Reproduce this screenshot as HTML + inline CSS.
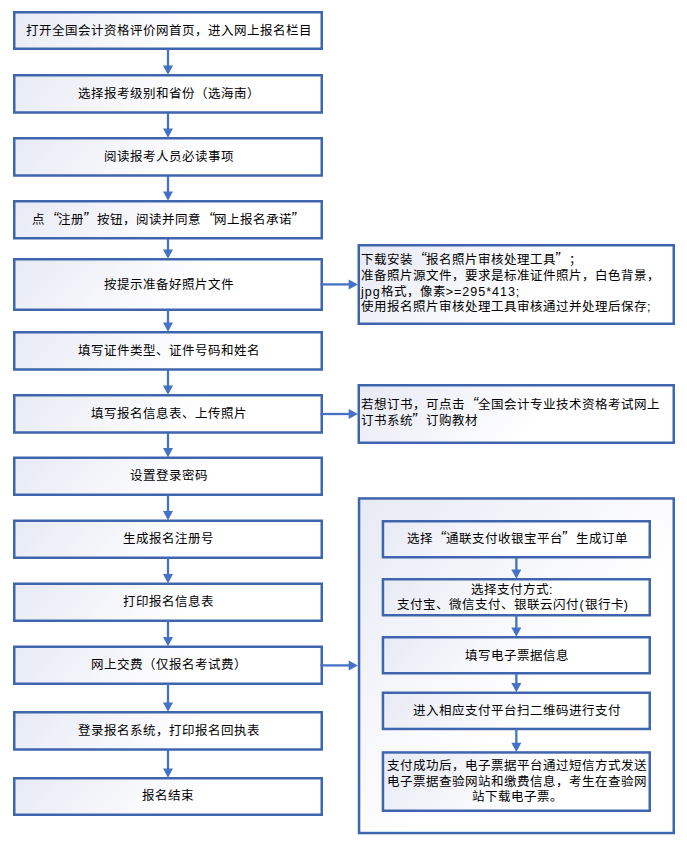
<!DOCTYPE html>
<html lang="zh-CN"><head><meta charset="utf-8">
<style>
html,body{margin:0;padding:0;background:#fff;width:687px;height:853px;overflow:hidden;}
body{position:relative;font-family:"Liberation Sans",sans-serif;color:#000;}
svg{position:absolute;left:0;top:0;}
.t{position:absolute;font-size:12.5px;line-height:15.6px;white-space:nowrap;}
.ql{display:inline-block;width:13px;text-align:right;font-family:"Liberation Sans",sans-serif;font-size:16px;font-style:italic;position:relative;top:-2px;vertical-align:top}
.qr{display:inline-block;width:13px;text-align:left;text-indent:-1.5px;font-family:"Liberation Sans",sans-serif;font-size:16px;font-style:italic;position:relative;top:-2px;vertical-align:top}
.n{display:flex;align-items:center;}
.ls{letter-spacing:1px}
.c{display:flex;align-items:center;justify-content:center;text-align:center;}
</style></head><body>
<svg width="687" height="853" viewBox="0 0 687 853">
<defs>
<linearGradient id="g0" gradientUnits="userSpaceOnUse" x1="13.0" y1="11" x2="187.50" y2="185.50"><stop offset="0" stop-color="#e7e9f4"/><stop offset="0.58" stop-color="#fff"/></linearGradient>
<linearGradient id="g1" gradientUnits="userSpaceOnUse" x1="13.0" y1="74" x2="187.88" y2="248.88"><stop offset="0" stop-color="#e7e9f4"/><stop offset="0.58" stop-color="#fff"/></linearGradient>
<linearGradient id="g2" gradientUnits="userSpaceOnUse" x1="13.0" y1="137" x2="187.88" y2="311.88"><stop offset="0" stop-color="#e7e9f4"/><stop offset="0.58" stop-color="#fff"/></linearGradient>
<linearGradient id="g3" gradientUnits="userSpaceOnUse" x1="13.0" y1="200" x2="187.75" y2="374.75"><stop offset="0" stop-color="#e7e9f4"/><stop offset="0.58" stop-color="#fff"/></linearGradient>
<linearGradient id="g4" gradientUnits="userSpaceOnUse" x1="13.0" y1="258" x2="194.50" y2="439.50"><stop offset="0" stop-color="#e7e9f4"/><stop offset="0.58" stop-color="#fff"/></linearGradient>
<linearGradient id="g5" gradientUnits="userSpaceOnUse" x1="13.0" y1="331" x2="187.88" y2="505.88"><stop offset="0" stop-color="#e7e9f4"/><stop offset="0.58" stop-color="#fff"/></linearGradient>
<linearGradient id="g6" gradientUnits="userSpaceOnUse" x1="13.0" y1="394" x2="187.88" y2="568.88"><stop offset="0" stop-color="#e7e9f4"/><stop offset="0.58" stop-color="#fff"/></linearGradient>
<linearGradient id="g7" gradientUnits="userSpaceOnUse" x1="13.0" y1="456.5" x2="187.75" y2="631.25"><stop offset="0" stop-color="#e7e9f4"/><stop offset="0.58" stop-color="#fff"/></linearGradient>
<linearGradient id="g8" gradientUnits="userSpaceOnUse" x1="13.0" y1="519.5" x2="187.75" y2="694.25"><stop offset="0" stop-color="#e7e9f4"/><stop offset="0.58" stop-color="#fff"/></linearGradient>
<linearGradient id="g9" gradientUnits="userSpaceOnUse" x1="13.0" y1="582.5" x2="187.75" y2="757.25"><stop offset="0" stop-color="#e7e9f4"/><stop offset="0.58" stop-color="#fff"/></linearGradient>
<linearGradient id="g10" gradientUnits="userSpaceOnUse" x1="13.0" y1="645.5" x2="187.75" y2="820.25"><stop offset="0" stop-color="#e7e9f4"/><stop offset="0.58" stop-color="#fff"/></linearGradient>
<linearGradient id="g11" gradientUnits="userSpaceOnUse" x1="13.0" y1="711" x2="187.88" y2="885.88"><stop offset="0" stop-color="#e7e9f4"/><stop offset="0.58" stop-color="#fff"/></linearGradient>
<linearGradient id="g12" gradientUnits="userSpaceOnUse" x1="13.0" y1="777" x2="187.50" y2="951.50"><stop offset="0" stop-color="#e7e9f4"/><stop offset="0.58" stop-color="#fff"/></linearGradient>
<linearGradient id="g13" gradientUnits="userSpaceOnUse" x1="357.5" y1="244" x2="556.75" y2="443.25"><stop offset="0" stop-color="#e7e9f4"/><stop offset="0.58" stop-color="#fff"/></linearGradient>
<linearGradient id="g14" gradientUnits="userSpaceOnUse" x1="357.5" y1="384" x2="546.25" y2="572.75"><stop offset="0" stop-color="#e7e9f4"/><stop offset="0.58" stop-color="#fff"/></linearGradient>
<linearGradient id="g15" gradientUnits="userSpaceOnUse" x1="357.8" y1="497.2" x2="684.95" y2="824.35"><stop offset="0" stop-color="#e7e9f4"/><stop offset="0.58" stop-color="#fff"/></linearGradient>
<linearGradient id="g16" gradientUnits="userSpaceOnUse" x1="381.7" y1="520" x2="535.60" y2="673.90"><stop offset="0" stop-color="#e7e9f4"/><stop offset="0.58" stop-color="#fff"/></linearGradient>
<linearGradient id="g17" gradientUnits="userSpaceOnUse" x1="381.7" y1="578" x2="535.60" y2="731.90"><stop offset="0" stop-color="#e7e9f4"/><stop offset="0.58" stop-color="#fff"/></linearGradient>
<linearGradient id="g18" gradientUnits="userSpaceOnUse" x1="381.7" y1="636" x2="535.60" y2="789.90"><stop offset="0" stop-color="#e7e9f4"/><stop offset="0.58" stop-color="#fff"/></linearGradient>
<linearGradient id="g19" gradientUnits="userSpaceOnUse" x1="381.7" y1="691.5" x2="535.70" y2="845.50"><stop offset="0" stop-color="#e7e9f4"/><stop offset="0.58" stop-color="#fff"/></linearGradient>
<linearGradient id="g20" gradientUnits="userSpaceOnUse" x1="381.7" y1="751.2" x2="546.75" y2="916.25"><stop offset="0" stop-color="#e7e9f4"/><stop offset="0.58" stop-color="#fff"/></linearGradient>
</defs>
<rect x="14.25" y="12.25" width="307.50" height="36.50" fill="url(#g0)" stroke="#3e65ae" stroke-width="2.5"/>
<line x1="168.0" y1="49" x2="168.0" y2="66.5" stroke="#4472c4" stroke-width="2.3"/>
<path d="M163.0,65.5 L173.0,65.5 L168.0,74.7 Z" fill="#4472c4"/>
<rect x="14.25" y="75.25" width="307.50" height="37.25" fill="url(#g1)" stroke="#3e65ae" stroke-width="2.5"/>
<line x1="168.0" y1="112.75" x2="168.0" y2="129.5" stroke="#4472c4" stroke-width="2.3"/>
<path d="M163.0,128.5 L173.0,128.5 L168.0,137.7 Z" fill="#4472c4"/>
<rect x="14.25" y="138.25" width="307.50" height="37.25" fill="url(#g2)" stroke="#3e65ae" stroke-width="2.5"/>
<line x1="168.0" y1="175.75" x2="168.0" y2="192.5" stroke="#4472c4" stroke-width="2.3"/>
<path d="M163.0,191.5 L173.0,191.5 L168.0,200.7 Z" fill="#4472c4"/>
<rect x="14.25" y="201.25" width="307.50" height="37.00" fill="url(#g3)" stroke="#3e65ae" stroke-width="2.5"/>
<line x1="168.0" y1="238.5" x2="168.0" y2="250.5" stroke="#4472c4" stroke-width="2.3"/>
<path d="M163.0,249.5 L173.0,249.5 L168.0,258.7 Z" fill="#4472c4"/>
<rect x="14.25" y="259.25" width="307.50" height="50.50" fill="url(#g4)" stroke="#3e65ae" stroke-width="2.5"/>
<line x1="168.0" y1="310" x2="168.0" y2="323.5" stroke="#4472c4" stroke-width="2.3"/>
<path d="M163.0,322.5 L173.0,322.5 L168.0,331.7 Z" fill="#4472c4"/>
<rect x="14.25" y="332.25" width="307.50" height="37.25" fill="url(#g5)" stroke="#3e65ae" stroke-width="2.5"/>
<line x1="168.0" y1="369.75" x2="168.0" y2="386.5" stroke="#4472c4" stroke-width="2.3"/>
<path d="M163.0,385.5 L173.0,385.5 L168.0,394.7 Z" fill="#4472c4"/>
<rect x="14.25" y="395.25" width="307.50" height="37.25" fill="url(#g6)" stroke="#3e65ae" stroke-width="2.5"/>
<line x1="168.0" y1="432.75" x2="168.0" y2="449.0" stroke="#4472c4" stroke-width="2.3"/>
<path d="M163.0,448.0 L173.0,448.0 L168.0,457.2 Z" fill="#4472c4"/>
<rect x="14.25" y="457.75" width="307.50" height="37.00" fill="url(#g7)" stroke="#3e65ae" stroke-width="2.5"/>
<line x1="168.0" y1="495" x2="168.0" y2="512.0" stroke="#4472c4" stroke-width="2.3"/>
<path d="M163.0,511.00000000000006 L173.0,511.00000000000006 L168.0,520.2 Z" fill="#4472c4"/>
<rect x="14.25" y="520.75" width="307.50" height="37.00" fill="url(#g8)" stroke="#3e65ae" stroke-width="2.5"/>
<line x1="168.0" y1="558" x2="168.0" y2="575.0" stroke="#4472c4" stroke-width="2.3"/>
<path d="M163.0,574.0 L173.0,574.0 L168.0,583.2 Z" fill="#4472c4"/>
<rect x="14.25" y="583.75" width="307.50" height="37.00" fill="url(#g9)" stroke="#3e65ae" stroke-width="2.5"/>
<line x1="168.0" y1="621" x2="168.0" y2="638.0" stroke="#4472c4" stroke-width="2.3"/>
<path d="M163.0,637.0 L173.0,637.0 L168.0,646.2 Z" fill="#4472c4"/>
<rect x="14.25" y="646.75" width="307.50" height="37.00" fill="url(#g10)" stroke="#3e65ae" stroke-width="2.5"/>
<line x1="168.0" y1="684" x2="168.0" y2="703.5" stroke="#4472c4" stroke-width="2.3"/>
<path d="M163.0,702.5 L173.0,702.5 L168.0,711.7 Z" fill="#4472c4"/>
<rect x="14.25" y="712.25" width="307.50" height="37.25" fill="url(#g11)" stroke="#3e65ae" stroke-width="2.5"/>
<line x1="168.0" y1="749.75" x2="168.0" y2="769.5" stroke="#4472c4" stroke-width="2.3"/>
<path d="M163.0,768.5 L173.0,768.5 L168.0,777.7 Z" fill="#4472c4"/>
<rect x="14.25" y="778.25" width="307.50" height="36.50" fill="url(#g12)" stroke="#3e65ae" stroke-width="2.5"/>
<rect x="358.75" y="245.25" width="315.00" height="78.50" fill="url(#g13)" stroke="#3e65ae" stroke-width="2.5"/>
<rect x="358.75" y="385.25" width="315.00" height="57.50" fill="url(#g14)" stroke="#3e65ae" stroke-width="2.5"/>
<line x1="320.5" y1="284.4" x2="349.7" y2="284.4" stroke="#4472c4" stroke-width="2.3"/>
<path d="M348.7,279.4 L348.7,289.4 L357.9,284.4 Z" fill="#4472c4"/>
<line x1="320.5" y1="414" x2="349.7" y2="414" stroke="#4472c4" stroke-width="2.3"/>
<path d="M348.7,409 L348.7,419 L357.9,414 Z" fill="#4472c4"/>
<line x1="320.5" y1="665.4" x2="349.7" y2="665.4" stroke="#4472c4" stroke-width="2.3"/>
<path d="M348.7,660.4 L348.7,670.4 L357.9,665.4 Z" fill="#4472c4"/>
<rect x="359.05" y="498.45" width="314.70" height="334.60" fill="url(#g15)" stroke="#3e65ae" stroke-width="2.5"/>
<rect x="382.95" y="521.25" width="266.80" height="36.00" fill="url(#g16)" stroke="#3e65ae" stroke-width="2.5"/>
<line x1="516.35" y1="557.5" x2="516.35" y2="570.5" stroke="#4472c4" stroke-width="2.3"/>
<path d="M511.35,569.5 L521.35,569.5 L516.35,578.7 Z" fill="#4472c4"/>
<rect x="382.95" y="579.25" width="266.80" height="36.00" fill="url(#g17)" stroke="#3e65ae" stroke-width="2.5"/>
<line x1="516.35" y1="615.5" x2="516.35" y2="628.5" stroke="#4472c4" stroke-width="2.3"/>
<path d="M511.35,627.5 L521.35,627.5 L516.35,636.7 Z" fill="#4472c4"/>
<rect x="382.95" y="637.25" width="266.80" height="36.00" fill="url(#g18)" stroke="#3e65ae" stroke-width="2.5"/>
<line x1="516.35" y1="673.5" x2="516.35" y2="684.0" stroke="#4472c4" stroke-width="2.3"/>
<path d="M511.35,683.0 L521.35,683.0 L516.35,692.2 Z" fill="#4472c4"/>
<rect x="382.95" y="692.75" width="266.80" height="36.20" fill="url(#g19)" stroke="#3e65ae" stroke-width="2.5"/>
<line x1="516.35" y1="729.2" x2="516.35" y2="743.7" stroke="#4472c4" stroke-width="2.3"/>
<path d="M511.35,742.7 L521.35,742.7 L516.35,751.9000000000001 Z" fill="#4472c4"/>
<rect x="382.95" y="752.45" width="266.80" height="58.30" fill="url(#g20)" stroke="#3e65ae" stroke-width="2.5"/>
</svg>
<div class="t c" style="left:13.8px;top:11px;width:310.0px;height:40.8px">打开全国会计资格评价网首页，进入网上报名栏目</div>
<div class="t c" style="left:13.8px;top:74px;width:310.0px;height:41.55px">选择报考级别和省份（选海南）</div>
<div class="t c" style="left:13.8px;top:137px;width:310.0px;height:41.55px">阅读报考人员必读事项</div>
<div class="t c" style="left:13.8px;top:200px;width:310.0px;height:41.3px">点<span class="ql">“</span>注册<span class="qr">”</span>按钮，阅读并同意<span class="ql">“</span>网上报名承诺<span class="qr">”</span></div>
<div class="t c" style="left:13.8px;top:258px;width:310.0px;height:54.8px">按提示准备好照片文件</div>
<div class="t c" style="left:13.8px;top:331px;width:310.0px;height:41.55px">填写证件类型、证件号码和姓名</div>
<div class="t c" style="left:13.8px;top:394px;width:310.0px;height:41.55px">填写报名信息表、上传照片</div>
<div class="t c" style="left:13.8px;top:456.5px;width:310.0px;height:41.3px">设置登录密码</div>
<div class="t c" style="left:13.8px;top:519.5px;width:310.0px;height:41.3px">生成报名注册号</div>
<div class="t c" style="left:13.8px;top:582.5px;width:310.0px;height:41.3px">打印报名信息表</div>
<div class="t c" style="left:13.8px;top:645.5px;width:310.0px;height:41.3px">网上交费（仅报名考试费）</div>
<div class="t c" style="left:13.8px;top:711px;width:310.0px;height:41.55px">登录报名系统，打印报名回执表</div>
<div class="t c" style="left:12.8px;top:776px;width:310.0px;height:40.8px">报名结束</div>
<div class="t n" style="left:361.0px;top:244px;width:313.5px;height:81px"><div>下载安装<span class="ql">“</span>报名照片审核处理工具<span class="qr">”</span>；<br>准备照片源文件，要求是标准证件照片，白色背景，<br><span class=ls>jpg</span>格式，像素<span class=ls>&gt;=295*413;</span><br>使用报名照片审核处理工具审核通过并处理后保存<span class=ls>;</span></div></div>
<div class="t n" style="left:361.0px;top:384px;width:313.5px;height:60px"><div>若想订书，可点击<span class="ql">“</span>全国会计专业技术资格考试网上<br>订书系统<span class="qr">”</span>订购教材</div></div>
<div class="t c m" style="left:382.5px;top:519px;width:269.3px;height:40.7px"><div>选择<span class="ql">“</span>通联支付收银宝平台<span class="qr">”</span>生成订单</div></div>
<div class="t c m" style="left:382.5px;top:578px;width:269.3px;height:40.7px"><div><span style="padding-right:10px">选择支付方式<span class=ls>:</span></span><br><span style="padding-right:8px">支付宝、微信支付、银联云闪付<span class=ls>(</span>银行卡<span class=ls>)</span></span></div></div>
<div class="t c m" style="left:382.5px;top:636px;width:269.3px;height:40.7px"><div>填写电子票据信息</div></div>
<div class="t c m" style="left:382.5px;top:691.5px;width:269.3px;height:40.90000000000005px"><div>进入相应支付平台扫二维码进行支付</div></div>
<div class="t c m" style="left:382.5px;top:751.2px;width:269.3px;height:62.99999999999996px"><div>支付成功后，电子票据平台通过短信方式发送<br>电子票据查验网站和缴费信息，考生在查验网<br>站下载电子票。</div></div>
</body></html>
